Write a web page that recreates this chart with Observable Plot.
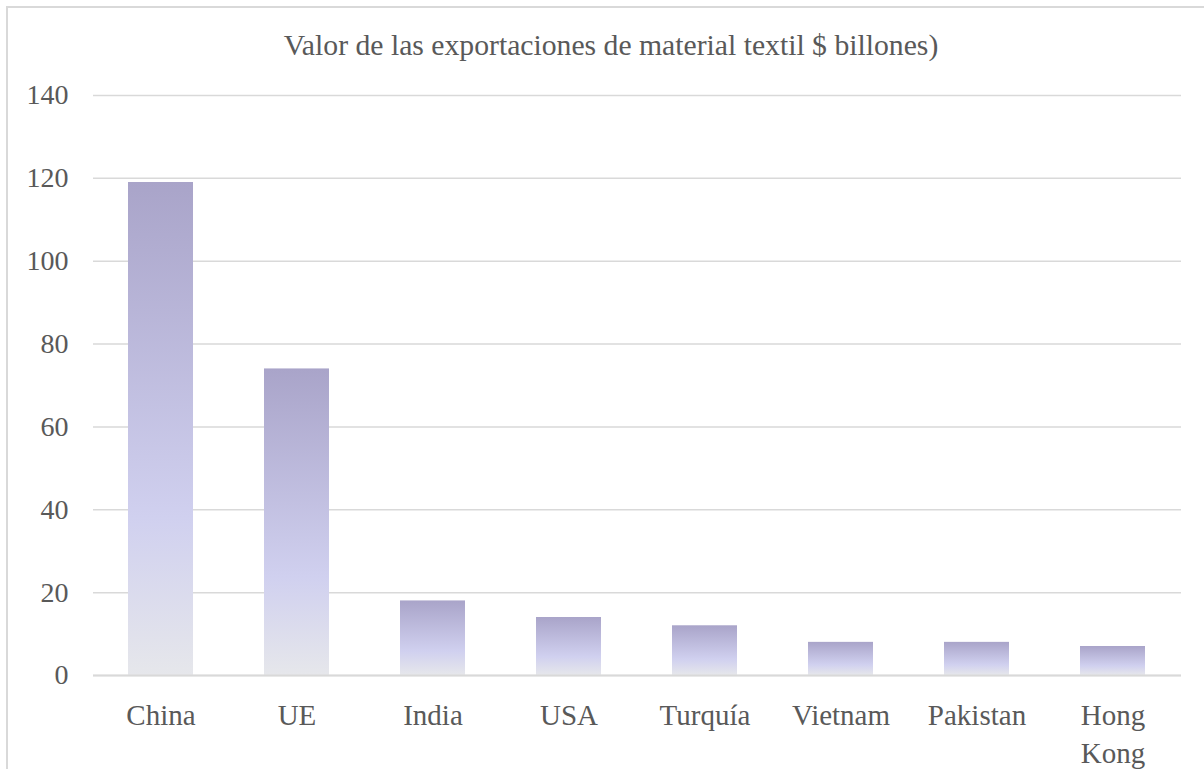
<!DOCTYPE html>
<html>
<head>
<meta charset="utf-8">
<script src="https://cdn.jsdelivr.net/npm/d3@7"></script>
<script src="https://cdn.jsdelivr.net/npm/@observablehq/plot@0.6"></script>
<style>
  html, body { margin: 0; padding: 0; background: #fff; overflow: hidden; }
  body { width: 1204px; height: 769px; position: relative; font-family: "Liberation Serif", "Times New Roman", serif; }
  #frame { position: absolute; left: 6px; top: 6px; width: 1400px; height: 900px; border-left: 2px solid #d9d9d9; border-top: 2px solid #d9d9d9; }
  #title { position: absolute; left: 0; top: 31px; width: 1222px; text-align: center; font-size: 29.7px; line-height: 29px; color: #595959; white-space: nowrap; }
  #chart { position: absolute; left: 0; top: 0; }
</style>
</head>
<body>
<div id="frame"></div>
<div id="chart"></div>
<div id="title">Valor de las exportaciones de material textil $ billones)</div>
<script>
const categories = ["China", "UE", "India", "USA", "Turquía", "Vietnam", "Pakistan", "Hong Kong"];
const values = [119, 74, 18, 14, 12, 8, 8, 7];
const yTicks = [0, 20, 40, 60, 80, 100, 120, 140];

const data = categories.map((c, i) => ({category: c, value: values[i]}));

const gradientDefs = () => {
  const defs = d3.create("svg:defs");
  const g = defs.append("linearGradient")
    .attr("id", "barGrad")
    .attr("x1", 0).attr("y1", 0).attr("x2", 0).attr("y2", 1);
  g.append("stop").attr("offset", "0%").attr("stop-color", "#a9a4c9");
  g.append("stop").attr("offset", "68%").attr("stop-color", "#d0d0ef");
  g.append("stop").attr("offset", "100%").attr("stop-color", "#e6e7eb");
  return defs.node();
};

const chart = Plot.plot({
  width: 1204,
  height: 769,
  marginLeft: 93,
  marginRight: 23,
  marginTop: 95,
  marginBottom: 94,
  style: {fontFamily: "'Liberation Serif', 'Times New Roman', serif", fontSize: "28px", color: "#595959", background: "transparent"},
  x: {domain: categories, paddingInner: 0.52, paddingOuter: 0.26, label: null},
  y: {domain: [0, 140], label: null},
  marks: [
    gradientDefs,
    Plot.gridY(yTicks, {stroke: "#d9d9d9", strokeOpacity: 1, strokeWidth: 1.5}),
    Plot.barY(data, {x: "category", y: "value", fill: "url(#barGrad)"}),
    Plot.ruleY([0], {stroke: "#d9d9d9", strokeWidth: 2}),
    Plot.axisY(yTicks, {tickSize: 0, tickPadding: 25, fill: "#595959", label: null, fontSize: 28}),
    Plot.axisX({tickSize: 0, tickPadding: 23, fill: "#595959", label: null, fontSize: 29, lineHeight: 1.3, tickFormat: d => d.replace(" ", "\n")})
  ]
});
document.getElementById("chart").appendChild(chart);
</script>
</body>
</html>
